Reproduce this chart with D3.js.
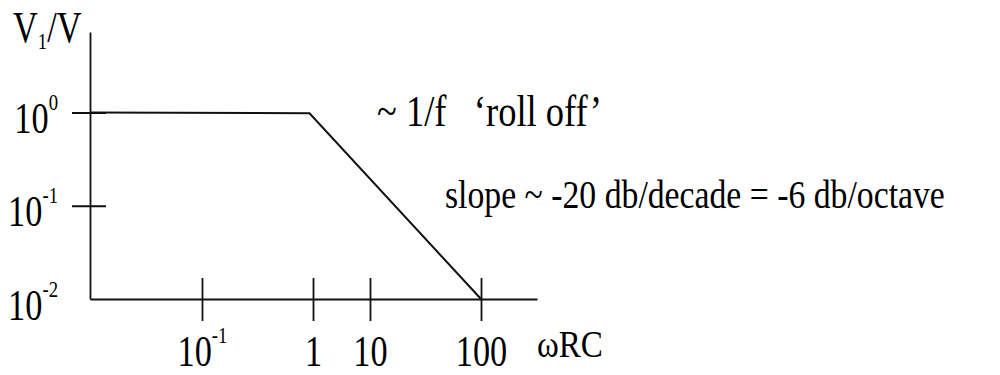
<!DOCTYPE html>
<html>
<head>
<meta charset="utf-8">
<script src="https://cdn.jsdelivr.net/npm/d3@7"></script>
<style>
  html, body { margin: 0; padding: 0; background: #fff; }
  svg { display: block; }
  text { font-family: "Liberation Serif", "Times New Roman", serif; fill: #000; }
</style>
</head>
<body>
<svg id="chart" width="1000" height="375"></svg>
<script>
// First-order RC low-pass: straight-line (asymptotic) gain sketch

// Axis ticks and their labels ([mantissa, exponent])
const xTickValues = [0.1, 1, 10, 100];
const xTickLabels = [["10", "-1"], ["1", ""], ["10", ""], ["100", ""]];
const yTickValues = [0.01, 0.1, 1];
const yTickLabels = [["10", "-2"], ["10", "-1"], ["10", "0"]];

// Response curve: gain V1/V against omega*RC
const omegaRC = [0.01, 0.93, 100];
const gain = [1.0, 0.98, 0.01];

// Text
const yTitle = ["V", "1", "/V"];
const xTitle = "\u03c9RC";
const rollOffNote = "~ 1/f   \u2018roll off\u2019";
const slopeNote = "slope ~ -20 db/decade = -6 db/octave";

const svg = d3.select("#chart");
const squeeze = 0.78;       // condensed lettering
const ink = "#111";

// Decades in the sketch are drawn unevenly, so the log scale is piecewise
const x = d3.scaleLog()
  .domain([0.01, 0.1, 1, 10, 100, 320])
  .range([90, 202, 313, 370, 481, 537]);
const y = d3.scaleLog()
  .domain([0.01, 7.3])
  .range([299, 32]);

function powerLabel(textSel, pair) {
  textSel.append("tspan").text(pair[0]);
  if (pair[1]) {
    textSel.append("tspan").attr("dy", -23).attr("font-size", 24).text(pair[1]);
  }
}

// Text condensed horizontally to a given width, anchored at its left end
function condensedText(str, left, baseline, size, width) {
  const t = svg.append("text")
    .attr("font-size", size)
    .style("white-space", "pre")
    .text(str);
  const natural = t.node().getComputedTextLength();
  t.attr("transform", `translate(${left},${baseline}) scale(${width / natural},1)`);
  return t;
}

// x axis
const xAxis = svg.append("g")
  .attr("transform", `translate(0,${y(0.01)})`)
  .call(d3.axisBottom(x).tickValues(xTickValues).tickSizeOuter(0).tickFormat(""));
xAxis.select(".domain").attr("stroke", ink).attr("stroke-width", 1.8);
xAxis.selectAll(".tick line")
  .attr("y1", -21).attr("y2", 22)
  .attr("stroke", ink).attr("stroke-width", 1.8);
xAxis.selectAll(".tick").each(function (d, i) {
  const t = d3.select(this).append("text")
    .attr("text-anchor", "middle")
    .attr("font-size", 44)
    .attr("transform", `translate(0,67) scale(${squeeze},1)`);
  powerLabel(t, xTickLabels[i]);
});

// y axis
const yAxis = svg.append("g")
  .attr("transform", `translate(${x(0.01)},0)`)
  .call(d3.axisLeft(y).tickValues(yTickValues).tickSizeOuter(0).tickFormat(""));
yAxis.select(".domain").attr("stroke", ink).attr("stroke-width", 1.8);
yAxis.selectAll(".tick line")
  .attr("x1", -18).attr("x2", 16)
  .attr("stroke", ink).attr("stroke-width", 1.8)
  .attr("display", d => d === d3.min(yTickValues) ? "none" : null);
yAxis.selectAll(".tick").each(function (d, i) {
  const t = d3.select(this).append("text")
    .attr("text-anchor", "end")
    .attr("font-size", 44)
    .attr("transform", `translate(-32,20) scale(${squeeze},1)`);
  powerLabel(t, yTickLabels[i]);
});

// gain curve
const points = omegaRC.map((w, i) => ({ w, g: gain[i] }));
svg.append("path")
  .datum(points)
  .attr("fill", "none")
  .attr("stroke", ink)
  .attr("stroke-width", 2)
  .attr("stroke-linejoin", "miter")
  .attr("d", d3.line().x(d => x(d.w)).y(d => y(d.g)));

// y title V1/V
const yt = svg.append("text")
  .attr("font-size", 44)
  .attr("transform", `translate(13,42) scale(${squeeze},1)`);
yt.append("tspan").text(yTitle[0]);
yt.append("tspan").attr("font-size", 24).attr("dy", 7).text(yTitle[1]);
yt.append("tspan").attr("dy", -7).text(yTitle[2]);

// x title and annotations
condensedText(xTitle, 537, 357, 38, 66);
condensedText(rollOffNote, 377, 126, 44, 225);
condensedText(slopeNote, 445, 208, 40, 500);
</script>
</body>
</html>
